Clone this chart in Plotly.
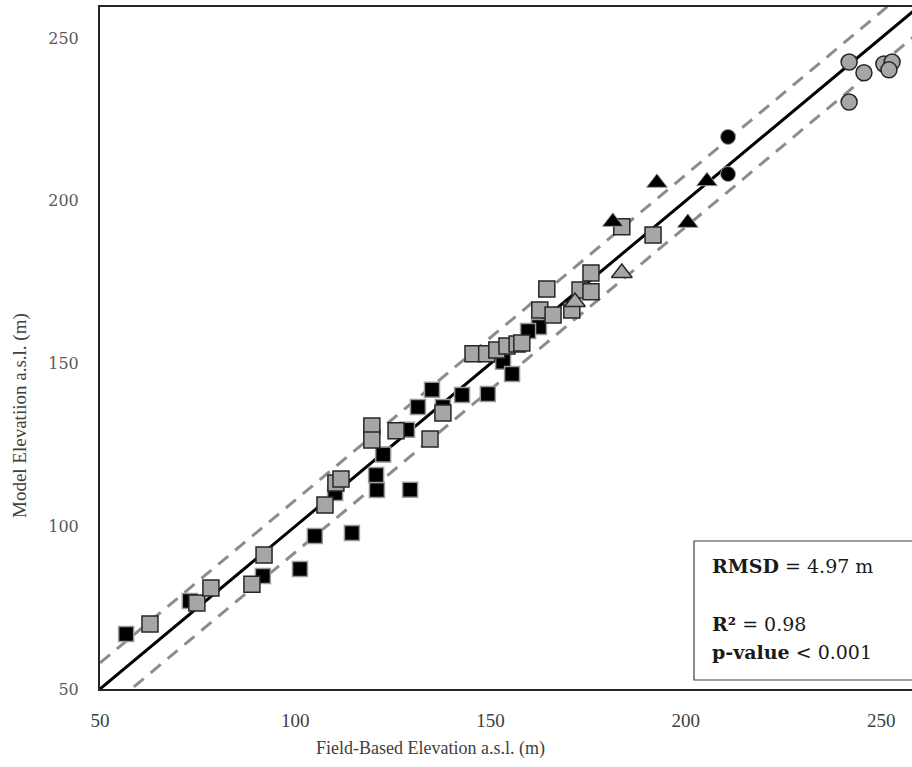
import plotly.graph_objects as go

# ---------------- data ----------------
black_sq_x = [56.7, 73.0, 91.7, 101.2, 105.0, 114.5, 110.2, 120.9, 129.4, 120.7, 122.5, 128.6,
              131.4, 135.0, 137.8, 142.7, 149.3, 153.2, 155.5, 162.4, 159.6]
black_sq_y = [66.9, 77.0, 84.7, 86.9, 97.0, 97.9, 110.2, 111.1, 111.2, 115.7, 122.0, 129.6,
              136.6, 141.9, 136.6, 140.3, 140.6, 150.5, 146.8, 161.2, 160.0]

gray_sq_x = [62.8, 74.8, 78.4, 88.9, 92.0, 107.6, 110.4, 111.7, 119.6, 119.6, 125.8, 134.5,
             137.8, 145.5, 149.0, 151.6, 154.2, 156.8, 158.0, 162.6, 166.0, 164.4, 170.8,
             172.9, 175.7, 175.7, 183.6, 191.6]
gray_sq_y = [70.0, 76.4, 81.0, 82.2, 91.2, 106.5, 113.3, 114.5, 130.8, 126.5, 129.3, 126.8,
             134.8, 153.0, 153.0, 154.1, 155.4, 156.0, 156.3, 166.4, 164.9, 172.9, 166.4,
             172.6, 172.0, 177.8, 192.0, 189.5]

black_tri_x = [181.3, 192.6, 200.5, 205.4]
black_tri_y = [193.5, 205.5, 193.2, 206.0]

gray_tri_x = [171.6, 183.6]
gray_tri_y = [168.9, 177.8]

black_ci_x = [210.8, 210.8]
black_ci_y = [219.6, 208.2]

gray_ci_x = [241.8, 245.6, 241.8, 250.7, 252.8, 252.0]
gray_ci_y = [242.6, 239.3, 230.3, 242.0, 242.6, 240.2]

line_x = [50, 260]
band = 8
x_ticks = [50, 100, 150, 200, 250]
y_ticks = [50, 100, 150, 200, 250]

stats_lines = ["<b>RMSD</b> = 4.97 m", "<b>R²</b> = 0.98", "<b>p-value</b> < 0.001"]

# ---------------- figure ----------------
GRAY = "#a6a6a6"
EDGE = "#262626"
fig = go.Figure()

fig.add_trace(go.Scatter(x=line_x, y=[v + band for v in line_x], mode="lines",
                         line=dict(color="#8c8c8c", width=3, dash="13px,9px"), hoverinfo="skip"))
fig.add_trace(go.Scatter(x=line_x, y=[v - band for v in line_x], mode="lines",
                         line=dict(color="#8c8c8c", width=3, dash="13px,9px"), hoverinfo="skip"))
fig.add_trace(go.Scatter(x=line_x, y=line_x, mode="lines",
                         line=dict(color="black", width=3), hoverinfo="skip"))

fig.add_trace(go.Scatter(x=black_sq_x, y=black_sq_y, mode="markers",
                         marker=dict(symbol="square", size=15, color="black",
                                     line=dict(color="#9a9a9a", width=1.5))))
fig.add_trace(go.Scatter(x=gray_sq_x, y=gray_sq_y, mode="markers",
                         marker=dict(symbol="square", size=16, color=GRAY,
                                     line=dict(color=EDGE, width=1.5))))
fig.add_trace(go.Scatter(x=black_tri_x, y=black_tri_y, mode="markers",
                         marker=dict(symbol="triangle-up", size=18, color="black",
                                     line=dict(color="#9a9a9a", width=1))))
fig.add_trace(go.Scatter(x=gray_tri_x, y=gray_tri_y, mode="markers",
                         marker=dict(symbol="triangle-up", size=18, color=GRAY,
                                     line=dict(color=EDGE, width=1.5))))
fig.add_trace(go.Scatter(x=black_ci_x, y=black_ci_y, mode="markers",
                         marker=dict(symbol="circle", size=15, color="black",
                                     line=dict(color="#9a9a9a", width=1))))
fig.add_trace(go.Scatter(x=gray_ci_x, y=gray_ci_y, mode="markers",
                         marker=dict(symbol="circle", size=16, color=GRAY,
                                     line=dict(color=EDGE, width=1.5))))

# stats box
fig.add_shape(type="rect", xref="paper", yref="paper",
              x0=(694 - 100) / 812, x1=1.02, y0=(689 - 680) / 682, y1=(689 - 541) / 682,
              line=dict(color="#404040", width=1.2), fillcolor="white", layer="above")
for txt, py in zip(stats_lines, [566, 624, 652]):
    fig.add_annotation(xref="paper", yref="paper", x=(710 - 100) / 812, y=(689 - py) / 682,
                       text=txt, showarrow=False, xanchor="left", yanchor="middle",
                       font=dict(family="DejaVu Serif", size=19, color="#1a1a1a"))

# axis titles
fig.add_annotation(xref="paper", yref="paper", x=(430 - 100) / 812, y=-(748 - 689) / 682,
                   text="Field-Based Elevation a.s.l. (m)", showarrow=False,
                   xanchor="center", yanchor="middle",
                   font=dict(family="Liberation Serif", size=18, color="#404040"))
fig.add_annotation(xref="paper", yref="paper", x=-(100 - 20) / 812, y=(689 - 416) / 682,
                   text="Model Elevatiion a.s.l. (m)", showarrow=False, textangle=-90,
                   xanchor="center", yanchor="middle",
                   font=dict(family="Liberation Serif", size=19, color="#404040"))

fig.update_layout(
    width=912, height=767, showlegend=False,
    paper_bgcolor="white", plot_bgcolor="white",
    margin=dict(l=100, r=0, t=7, b=78),
    xaxis=dict(range=[50, 257.9], tickvals=x_ticks, showgrid=False, zeroline=False,
               showline=True, linecolor=EDGE, linewidth=2, mirror=True, ticks="",
               ticklabelstandoff=13,
               tickfont=dict(family="Liberation Serif", size=19, color="#404040")),
    yaxis=dict(range=[50, 259.5], tickvals=y_ticks, showgrid=False, zeroline=False,
               showline=True, linecolor=EDGE, linewidth=2, ticks="",
               ticklabelstandoff=16,
               tickfont=dict(family="DejaVu Serif", size=16, color="#595959")),
)

fig.write_html("out.html")
